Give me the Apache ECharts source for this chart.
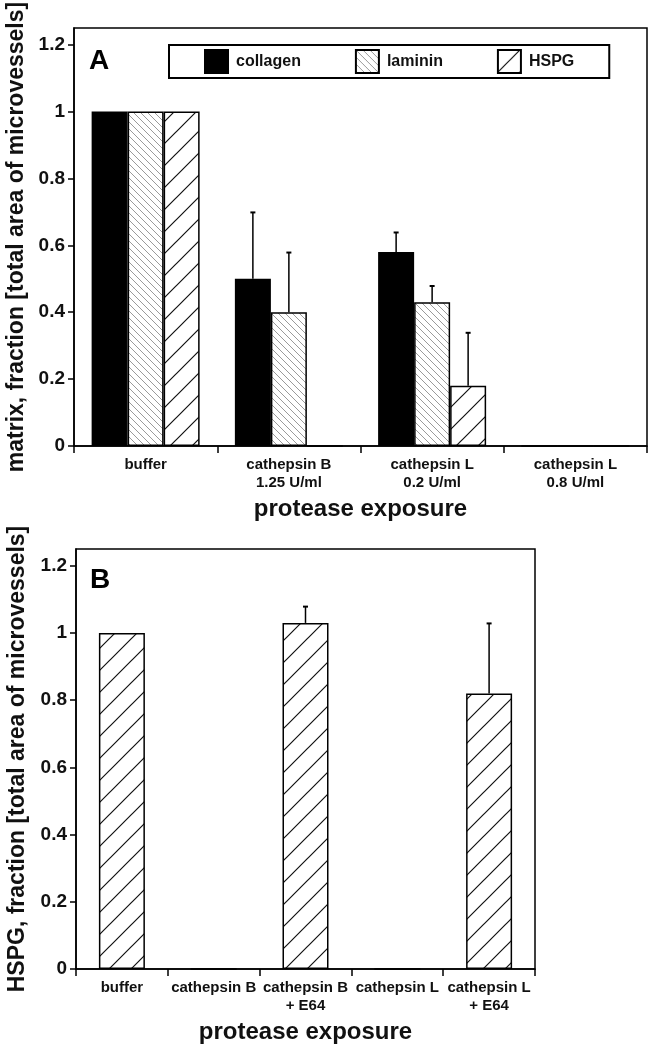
<!DOCTYPE html>
<html>
<head>
<meta charset="utf-8">
<script src="https://cdn.jsdelivr.net/npm/echarts@6/dist/echarts.min.js"></script>
<style>
html,body{margin:0;padding:0;background:#fff;}
#chart{width:654px;height:1050px;}
</style>
</head>
<body>
<div id="chart"></div>
<script>
// ---- data ----
const categoriesA = ['buffer', 'cathepsin B\n1.25 U/ml', 'cathepsin L\n0.2 U/ml', 'cathepsin L\n0.8 U/ml'];
const collagen = [1, 0.50, 0.58, 0];
const collagenErr = [0, 0.20, 0.06, 0];
const laminin = [1, 0.40, 0.43, 0];
const lamininErr = [0, 0.18, 0.05, 0];
const hspg = [1, 0, 0.18, 0];
const hspgErr = [0, 0, 0.16, 0];

const categoriesB = ['buffer', 'cathepsin B', 'cathepsin B\n+ E64', 'cathepsin L', 'cathepsin L\n+ E64'];
const hspgB = [1, 0, 1.03, 0, 0.82];
const hspgBErr = [0, 0, 0.05, 0, 0.21];

const yTicks = [0, 0.2, 0.4, 0.6, 0.8, 1, 1.2];

// ---- patterns ----
function hatch(size, dir, color, lw) {
  const c = document.createElement('canvas');
  c.width = size; c.height = size;
  const ctx = c.getContext('2d');
  ctx.fillStyle = '#fff';
  ctx.fillRect(0, 0, size, size);
  ctx.strokeStyle = color;
  ctx.lineWidth = lw;
  ctx.beginPath();
  if (dir === 'back') { // "\"
    ctx.moveTo(-2, -2); ctx.lineTo(size + 2, size + 2);
    ctx.moveTo(size - 2, -2); ctx.lineTo(size + 2, 2);
    ctx.moveTo(-2, size - 2); ctx.lineTo(2, size + 2);
  } else { // "/"
    ctx.moveTo(-2, size + 2); ctx.lineTo(size + 2, -2);
    ctx.moveTo(-2, 2); ctx.lineTo(2, -2);
    ctx.moveTo(size - 2, size + 2); ctx.lineTo(size + 2, size - 2);
  }
  ctx.stroke();
  return c;
}
const lamPattern = { image: hatch(7, 'back', '#9a9a9a', 1), repeat: 'repeat' };
const hspgPattern = { image: hatch(22, 'fwd', '#111', 1.2), repeat: 'repeat' };

const FONT = '"Liberation Sans", Arial, Helvetica, sans-serif';

function errSeries(name, vals, errs, offset, axisIdx) {
  return {
    name: name,
    type: 'custom',
    xAxisIndex: axisIdx, yAxisIndex: axisIdx,
    z: 5,
    data: vals.map((v, i) => [i, v, errs[i]]),
    encode: { x: 0, y: 1 },
    renderItem: function (params, api) {
      const e = api.value(2);
      if (!e) return null;
      const base = api.coord([api.value(0), api.value(1)]);
      const top = api.coord([api.value(0), api.value(1) + e]);
      const cx = base[0] + offset;
      return {
        type: 'group',
        children: [
          { type: 'line', shape: { x1: cx, y1: base[1], x2: cx, y2: top[1] }, style: { stroke: '#000', lineWidth: 1.5 } },
          { type: 'line', shape: { x1: cx - 2.5, y1: top[1] + 0.5, x2: cx + 2.5, y2: top[1] + 0.5 }, style: { stroke: '#000', lineWidth: 2 } }
        ]
      };
    }
  };
}

function yAxis(gridIndex, name, gap) {
  return {
    type: 'value', gridIndex: gridIndex, min: 0, max: 1.25,
    name: name, nameLocation: 'middle', nameGap: gap,
    nameTextStyle: { fontFamily: FONT, fontSize: 23, fontWeight: 'bold', color: '#111' },
    axisLine: { show: true, lineStyle: { color: '#000', width: 1.5 } },
    axisTick: { show: true, length: 6, customValues: yTicks, lineStyle: { color: '#000', width: 1.5 } },
    axisLabel: { customValues: yTicks, margin: 9, fontFamily: FONT, fontSize: 19, fontWeight: 'bold', color: '#111',
      formatter: v => String(+v.toFixed(1)) },
    splitLine: { show: false }
  };
}
function xAxis(gridIndex, cats) {
  return {
    type: 'category', gridIndex: gridIndex, data: cats,
    name: 'protease exposure', nameLocation: 'middle', nameGap: 51,
    nameTextStyle: { fontFamily: FONT, fontSize: 24, fontWeight: 'bold', color: '#111', verticalAlign: 'top' },
    axisLine: { lineStyle: { color: '#000', width: 1.5 } },
    axisTick: { show: true, length: 7, alignWithLabel: false, lineStyle: { color: '#000', width: 1.5 } },
    axisLabel: { interval: 0, margin: 10, fontFamily: FONT, fontSize: 15, fontWeight: 'bold', color: '#111', lineHeight: 18 }
  };
}

const barBorder = { borderColor: '#000', borderWidth: 1.5 };

const chart = echarts.init(document.getElementById('chart'), null, { renderer: 'canvas' });
chart.setOption({
  backgroundColor: '#fff',
  animation: false,
  grid: [
    { left: 74, right: 7, top: 28, height: 418, show: true, borderColor: '#000', borderWidth: 1.5, containLabel: false, outerBoundsMode: 'none' },
    { left: 76, right: 119, top: 549, height: 420, show: true, borderColor: '#000', borderWidth: 1.5, containLabel: false, outerBoundsMode: 'none' }
  ],
  legend: {
    data: ['collagen', 'laminin', 'HSPG'],
    left: 169, top: 45,
    icon: 'rect',
    itemWidth: 23, itemHeight: 23, itemGap: 54,
    padding: [4, 35, 4, 35],
    borderColor: '#000', borderWidth: 2,
    textStyle: { fontFamily: FONT, fontSize: 16, fontWeight: 'bold', color: '#111', padding: [0, 0, 0, 3] },
    selectedMode: false
  },
  xAxis: [xAxis(0, categoriesA), xAxis(1, categoriesB)],
  yAxis: [
    yAxis(0, 'matrix, fraction [total area of microvessels]', 46),
    yAxis(1, 'HSPG, fraction [total area of microvessels]', 47)
  ],
  graphic: [
    { type: 'text', left: 89, top: 47, style: { text: 'A', font: 'bold 28px ' + FONT, fill: '#000' } },
    { type: 'text', left: 90, top: 566, style: { text: 'B', font: 'bold 28px ' + FONT, fill: '#000' } }
  ],
  series: [
    { name: 'collagen', type: 'bar', xAxisIndex: 0, yAxisIndex: 0, data: collagen, barWidth: 36, barGap: '0%',
      itemStyle: Object.assign({ color: '#000' }, barBorder) },
    { name: 'laminin', type: 'bar', xAxisIndex: 0, yAxisIndex: 0, data: laminin, barWidth: 36, barGap: '0%',
      itemStyle: Object.assign({ color: lamPattern }, barBorder) },
    { name: 'HSPG', type: 'bar', xAxisIndex: 0, yAxisIndex: 0, data: hspg, barWidth: 36, barGap: '0%',
      itemStyle: Object.assign({ color: hspgPattern }, barBorder) },
    errSeries('collagen err', collagen, collagenErr, -36, 0),
    errSeries('laminin err', laminin, lamininErr, 0, 0),
    errSeries('HSPG err', hspg, hspgErr, 36, 0),
    { name: 'HSPG-B', type: 'bar', xAxisIndex: 1, yAxisIndex: 1, data: hspgB, barWidth: 46,
      itemStyle: Object.assign({ color: hspgPattern }, barBorder) },
    errSeries('HSPG-B err', hspgB, hspgBErr, 0, 1)
  ]
});
</script>
</body>
</html>
